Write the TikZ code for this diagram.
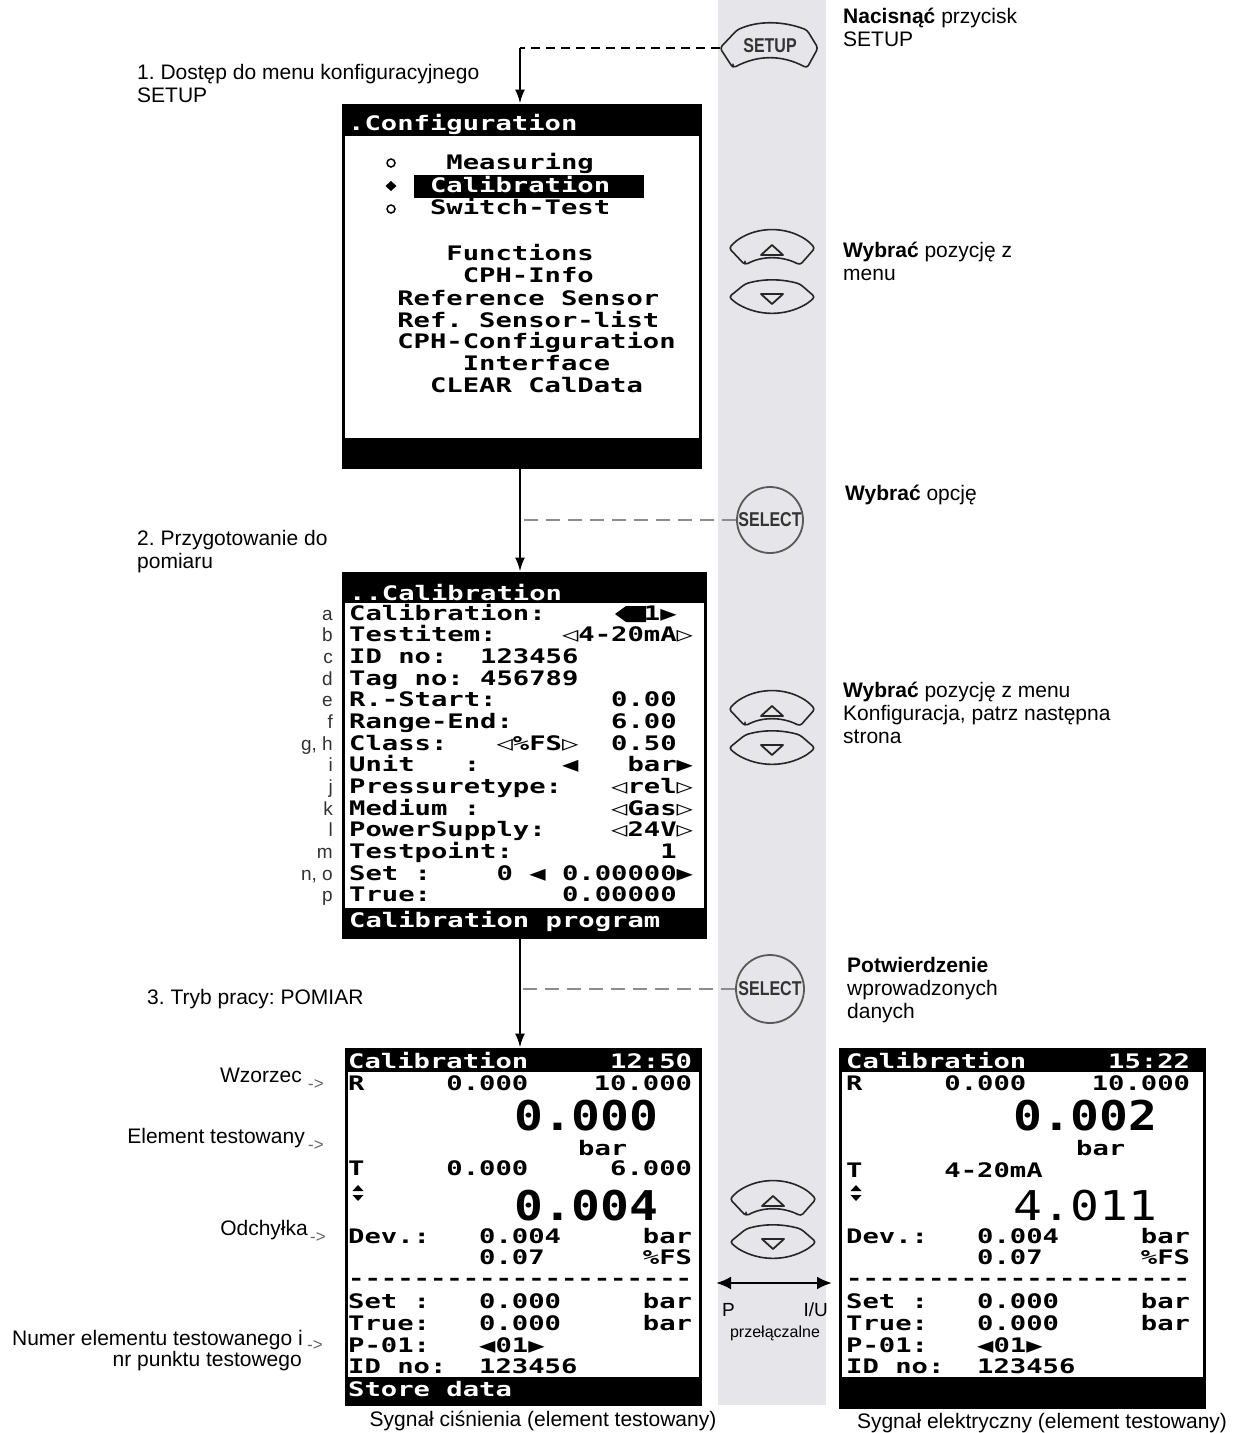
\documentclass[tikz,border=0pt]{standalone}
\usepackage{fontspec}
\setmainfont{Liberation Sans}
\newfontfamily\lcdfam[FakeStretch=1.36]{DejaVu Sans Mono}
\newfontfamily\lcdbigfam[FakeStretch=1.17]{DejaVu Sans Mono}
\newfontfamily\btnfam[FakeStretch=0.8]{Liberation Sans}
\usetikzlibrary{arrows.meta}
\newcommand\lcdsp{\def~{\hphantom{0}}}
\newcommand\lcddash{\hbox{-}}
\definecolor{bandgray}{RGB}{230,230,234}
\definecolor{lblgray}{RGB}{50,50,50}
\frenchspacing
\begin{document}
\begin{tikzpicture}[x=1pt,y=-1pt,
  lcd/.style={anchor=base west, inner sep=0, font=\lcdfam\fontsize{20}{20}\selectfont\bfseries\lcdsp},
  lcdw/.style={lcd, text=white},
  lcdbig/.style={anchor=base west, inner sep=0, font=\lcdbigfam\fontsize{41}{42}\selectfont\bfseries},
  lcdbigl/.style={anchor=base west, inner sep=0, font=\lcdbigfam\fontsize{41}{42}\selectfont},
  screen/.style={draw=black, line width=3, inner sep=0, fill=white},
  txt/.style={anchor=base west, inner sep=0, font=\fontsize{21}{23}\selectfont},
  txtr/.style={anchor=base east, inner sep=0, font=\fontsize{21}{23}\selectfont},
  txtc/.style={anchor=base, inner sep=0, font=\fontsize{21}{23}\selectfont},
  marker/.style={anchor=base west, inner sep=0, text=black!60, font=\fontsize{17}{18}\selectfont},
  rowlbl/.style={anchor=base east, inner sep=0, text=lblgray, font=\fontsize{19}{20}\selectfont},
  btn/.style={draw=black!85, line width=1.6, rounded corners=3},
  tri/.style={draw=black!85, line width=1.8, line join=round},
  btntxt/.style={inner sep=0, text=black!80, font=\btnfam\fontsize{20}{20}\selectfont\bfseries},
  conn/.style={draw=black, line width=2, -{Latex[length=14,width=10]}},
  bdash/.style={draw=black, line width=2, dash pattern=on 9 off 6},
  gdash/.style={draw=black!45, line width=1.6, dash pattern=on 14 off 8},
  upbtn/.pic={
    \draw[btn] (-27,17) -- (-43,0) -- (-36,-7) .. controls (-14,-21.7) and (14,-21.7) .. (36,-7) -- (43,0) -- (28,17) .. controls (10,7.7) and (-10,7.7) .. cycle;
    \draw[tri] (0,-3) -- (-11,7) -- (11,7) -- cycle;},
  dnbtn/.pic={
    \draw[btn] (-27,-13) .. controls (-9,-18.3) and (9,-18.3) .. (28,-13) -- (43,0) -- (36,6) .. controls (13,19.3) and (-13,19.3) .. (-36,6) -- (-43,0) -- cycle;
    \draw[tri] (-11,-3) -- (11,-3) -- (0,7) -- cycle;},
  setupbtn/.pic={
    \draw[btn] (-37,20) -- (-50,0) -- (-33,-18) .. controls (-12,-27.3) and (12,-27.3) .. (37,-18) -- (48,0) -- (37,20) .. controls (12,6.7) and (-12,6.7) .. cycle;}
]
\fill[white] (0,0) rectangle (1242,1433);
\useasboundingbox (0,0) rectangle (1242,1433);
\fill[bandgray] (718,0) rectangle (826,1405);
\coordinate (axis) at (520,0);

% ---------- buttons ----------
\pic (bsetup) at (770,48) {setupbtn};
\node[btntxt] (setup) at (770,46) {SETUP};
\coordinate (setupL) at (720,48);
\pic (up1) at (772,248) {upbtn};
\pic (dn1) at (772,297) {dnbtn};
\node[circle, draw=black!65, line width=1.8, minimum size=66, inner sep=0, text=black!80, font=\btnfam\fontsize{20}{20}\selectfont\bfseries] (sel1) at (770,520) {SELECT};
\pic (up2) at (772,709) {upbtn};
\pic (dn2) at (772,748) {dnbtn};
\node[circle, draw=black!65, line width=1.8, minimum size=68, inner sep=0, text=black!80, font=\btnfam\fontsize{20}{20}\selectfont\bfseries] (sel2) at (770,989) {SELECT};
\pic (up3) at (773,1199) {upbtn};
\pic (dn3) at (773,1242) {dnbtn};
\coordinate (swL) at (716,1283);
\coordinate (swR) at (832,1283);
\draw[line width=2.5, {Latex[length=15,width=13]}-{Latex[length=15,width=13]}] (swL) -- (swR);
\node[anchor=base west, inner sep=0, font=\fontsize{19}{20}\selectfont] (pP) at (722,1316) {P};
\node[anchor=base east, inner sep=0, font=\fontsize{19}{20}\selectfont] (pIU) at (828,1316) {I/U};
\node[anchor=base, inner sep=0, font=\fontsize{16}{17}\selectfont] (pprz) at (775,1337) {przełączalne};

% ---------- screen 1 ----------
\node[screen, minimum width=357, minimum height=362] (scr1) at (521.5,286) {};
\fill (343,105) rectangle (700,136);
\fill (343,438) rectangle (700,467);
\node[lcdw] (s1t) at (348,130) {.Configuration};
\fill (414,175) rectangle (644,198);
\draw[line width=1.5] (391,163) circle (4);
\fill (391,181) -- (396.5,186) -- (391,191) -- (385.5,186) -- cycle;
\draw[line width=1.5] (391,209) circle (4);
\node[lcd]  (s1a) at (348,169) {~~~~~~Measuring};
\node[lcdw] (s1b) at (348,192) {~~~~~Calibration};
\node[lcd]  (s1c) at (348,214) {~~~~~Switch-Test};
\node[lcd]  (s1d) at (348,260) {~~~~~~Functions};
\node[lcd]  (s1e) at (348,282) {~~~~~~~CPH-Info};
\node[lcd]  (s1f) at (348,305) {~~~Reference~Sensor};
\node[lcd]  (s1g) at (348,327) {~~~Ref.~Sensor-list};
\node[lcd]  (s1h) at (348,348) {~~~CPH-Configuration};
\node[lcd]  (s1i) at (348,370) {~~~~~~~Interface};
\node[lcd]  (s1j) at (348,392) {~~~~~CLEAR~CalData};

% ---------- screen 2 ----------
\node[screen, minimum width=362, minimum height=364] (scr2) at (524,755) {};
\fill (343,573) rectangle (705,603);
\fill (343,908) rectangle (705,937);
\node[lcdw] (s2t) at (349,600) {..Calibration};
\fill (615,614) -- (626,606) -- (646,606) -- (646,622) -- (626,622) -- cycle;
\node[lcd] (s2a) at (349,620)   {Calibration:~~~~~~1▶};
\node[lcd] (s2b) at (349,641.7) {Testitem:~~~~◁4-20mA▷};
\node[lcd] (s2c) at (349,663.3) {ID~no:~~123456};
\node[lcd] (s2d) at (349,685)   {Tag~no:~456789};
\node[lcd] (s2e) at (349,706.6) {R.-Start:~~~~~~~0.00};
\node[lcd] (s2f) at (349,728.3) {Range-End:~~~~~~6.00};
\node[lcd] (s2g) at (349,750)   {Class:~~~◁\%FS▷~~0.50};
\node[lcd] (s2i) at (349,771.6) {Unit~~~:~~~~~◀~~~bar▶};
\node[lcd] (s2j) at (349,793.2) {Pressuretype:~~~◁rel▷};
\node[lcd] (s2k) at (349,815)   {Medium~:~~~~~~~~◁Gas▷};
\node[lcd] (s2l) at (349,836.5) {PowerSupply:~~~~◁24V▷};
\node[lcd] (s2m) at (349,858)   {Testpoint:~~~~~~~~~1};
\node[lcd] (s2n) at (349,880)   {Set~:~~~~0~◀~0.00000▶};
\node[lcd] (s2p) at (349,901.5) {True:~~~~~~~~0.00000};
\node[lcdw] (s2b2) at (349,927) {Calibration~program};
\node[rowlbl] (la) at (333,620)   {a};
\node[rowlbl] (lb) at (333,641.7) {b};
\node[rowlbl] (lc) at (333,663.3) {c};
\node[rowlbl] (ld) at (333,685)   {d};
\node[rowlbl] (le) at (333,706.6) {e};
\node[rowlbl] (lf) at (333,728.3) {f};
\node[rowlbl] (lg) at (333,750)   {g, h};
\node[rowlbl] (li) at (333,771.6) {i};
\node[rowlbl] (lj) at (333,793.2) {j};
\node[rowlbl] (lk) at (333,815)   {k};
\node[rowlbl] (ll) at (333,836.5) {l};
\node[rowlbl] (lm) at (333,858)   {m};
\node[rowlbl] (ln) at (333,880)   {n, o};
\node[rowlbl] (lp) at (333,901.5) {p};

% ---------- screen 3 ----------
\node[screen, minimum width=354, minimum height=355] (scr3) at (523,1226.5) {};
\fill (346,1049) rectangle (700,1072);
\fill (346,1377) rectangle (700,1404);
\node[lcdw] (s3t) at (348,1068) {Calibration~~~~~12:50};
\node[lcd] (s3r) at (348,1090) {R~~~~~0.000~~~~10.000};
\node[lcdbig] (s3v1) at (514,1130) {0.000};
\node[lcd] (s3u) at (578,1155) {bar};
\node[lcd] (s3tt) at (348,1175) {T~~~~~0.000~~~~~6.000};
\fill (358,1185) -- (352.5,1191) -- (363.5,1191) -- cycle;
\fill (352.5,1195) -- (363.5,1195) -- (358,1201) -- cycle;
\node[lcdbig] (s3v2) at (514,1220) {0.004};
\node[lcd] (s3d1) at (348,1243) {Dev.:~~~0.004~~~~~bar};
\node[lcd] (s3d2) at (348,1264) {~~~~~~~~0.07~~~~~~\%FS};
\node[lcd] (s3ds) at (348,1285) {\lcddash\lcddash\lcddash\lcddash\lcddash\lcddash\lcddash\lcddash\lcddash\lcddash\lcddash\lcddash\lcddash\lcddash\lcddash\lcddash\lcddash\lcddash\lcddash\lcddash\lcddash};
\node[lcd] (s3s) at (348,1308) {Set~:~~~0.000~~~~~bar};
\node[lcd] (s3tr) at (348,1330) {True:~~~0.000~~~~~bar};
\node[lcd] (s3p) at (348,1352) {P-01:~~~◀01▶};
\node[lcd] (s3id) at (348,1373) {ID~no:~~123456};
\node[lcdw] (s3b) at (348,1396) {Store~data};

% ---------- screen 4 ----------
\node[screen, minimum width=364, minimum height=358] (scr4) at (1022,1228) {};
\fill (840,1049) rectangle (1204,1072);
\fill (840,1377) rectangle (1204,1407);
\node[lcdw] (s4t) at (846,1068) {Calibration~~~~~15:22};
\node[lcd] (s4r) at (846,1090) {R~~~~~0.000~~~~10.000};
\node[lcdbig] (s4v1) at (1013,1130) {0.002};
\node[lcd] (s4u) at (1076,1155) {bar};
\node[lcd] (s4tt) at (846,1177) {T~~~~~4-20mA};
\fill (856,1185) -- (850.5,1191) -- (861.5,1191) -- cycle;
\fill (850.5,1195) -- (861.5,1195) -- (856,1201) -- cycle;
\node[lcdbigl] (s4v2) at (1013,1220) {4.011};
\node[lcd] (s4d1) at (846,1243) {Dev.:~~~0.004~~~~~bar};
\node[lcd] (s4d2) at (846,1264) {~~~~~~~~0.07~~~~~~\%FS};
\node[lcd] (s4ds) at (846,1285) {\lcddash\lcddash\lcddash\lcddash\lcddash\lcddash\lcddash\lcddash\lcddash\lcddash\lcddash\lcddash\lcddash\lcddash\lcddash\lcddash\lcddash\lcddash\lcddash\lcddash\lcddash};
\node[lcd] (s4s) at (846,1308) {Set~:~~~0.000~~~~~bar};
\node[lcd] (s4tr) at (846,1330) {True:~~~0.000~~~~~bar};
\node[lcd] (s4p) at (846,1352) {P-01:~~~◀01▶};
\node[lcd] (s4id) at (846,1373) {ID~no:~~123456};

% ---------- connectors ----------
\draw[bdash] (setupL) -- (setupL -| axis);
\draw[conn] (setupL -| axis) -- (scr1.north -| axis);
\draw[conn] (scr1.south -| axis) -- (scr2.north -| axis);
\draw[conn] (scr2.south -| axis) -- (scr3.north -| axis);
\draw[gdash] (sel1.west) -- (sel1.west -| axis);
\draw[gdash] (sel2.west) -- (sel2.west -| axis);

% ---------- texts ----------
\node[txt] (l1a) at (137,79) {1. Dostęp do menu konfiguracyjnego};
\node[txt] (l1b) at (137,102) {SETUP};
\node[txt] (l2a) at (137,545) {2. Przygotowanie do};
\node[txt] (l2b) at (137,568) {pomiaru};
\node[txt] (l3a) at (147,1004) {3. Tryb pracy: POMIAR};

\node[txt] (r1a) at (843,23) {\textbf{Nacisnąć} przycisk};
\node[txt] (r1b) at (843,46) {SETUP};
\node[txt] (r2a) at (843,257) {\textbf{Wybrać} pozycję z};
\node[txt] (r2b) at (843,280) {menu};
\node[txt] (r3a) at (845,500) {\textbf{Wybrać} opcję};
\node[txt] (r4a) at (843,697) {\textbf{Wybrać} pozycję z menu};
\node[txt] (r4b) at (843,720) {Konfiguracja, patrz następna};
\node[txt] (r4c) at (843,743) {strona};
\node[txt] (r5a) at (847,972) {\textbf{Potwierdzenie}};
\node[txt] (r5b) at (847,995) {wprowadzonych};
\node[txt] (r5c) at (847,1018) {danych};

\node[txtr] (m1) at (302,1082) {Wzorzec};
\node[marker] (m1a) at (308,1089) {->};
\node[txtr] (m2) at (305,1143) {Element testowany};
\node[marker] (m2a) at (308,1150) {->};
\node[txtr] (m3) at (308,1235) {Odchyłka};
\node[marker] (m3a) at (310,1242) {->};
\node[txtr] (m4) at (303,1345) {Numer elementu testowanego i};
\node[marker] (m4a) at (307,1350) {->};
\node[txtr] (m4b) at (302,1366) {nr punktu testowego};

\node[txtc] (c1) at (543,1426) {Sygnał ciśnienia (element testowany)};
\node[txtc] (c2) at (1042,1428) {Sygnał elektryczny (element testowany)};
\end{tikzpicture}
\end{document}
